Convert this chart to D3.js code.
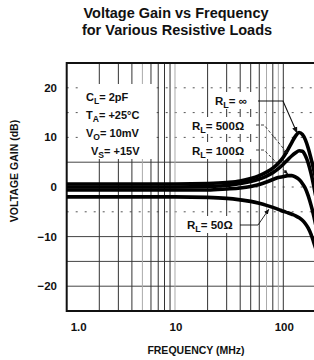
<!DOCTYPE html>
<html>
<head>
<meta charset="utf-8">
<script src="https://cdn.jsdelivr.net/npm/d3@7"></script>
<style>
  body { margin: 0; background: #fff; }
  svg { display: block; font-family: "Liberation Sans", Arial, sans-serif; }
</style>
</head>
<body>
<div id="chart"></div>
<script>
// values
var freqs   = [1, 10, 20, 30, 40, 50, 60, 70, 80, 90, 100, 110, 120, 130, 140, 150, 160, 170, 180, 190, 200];
var gainInf = [0.6, 0.6, 0.7, 0.9, 1.2, 1.7, 2.3, 3.0, 3.8, 4.8, 6.0, 7.5, 9.0, 10.3, 11.0, 10.6, 9.5, 7.8, 5.8, 3.7, 1.5];
var gain500 = [0, 0, 0.1, 0.3, 0.7, 1.1, 1.6, 2.2, 2.9, 3.7, 4.6, 5.5, 6.3, 6.9, 7.3, 7.2, 6.3, 4.8, 2.8, 0.5, -2];
var gain100 = [-0.6, -0.6, -0.6, -0.4, -0.2, 0.1, 0.5, 1.0, 1.5, 1.9, 2.1, 2.3, 2.3, 2.0, 1.5, 0.7, -0.3, -1.8, -3.6, -5.6, -7.8];
var gain50  = [-2.0, -2.0, -2.1, -2.3, -2.6, -2.9, -3.3, -3.7, -4.1, -4.5, -4.9, -5.2, -5.5, -5.8, -6.2, -6.7, -7.4, -8.3, -9.5, -11, -12.5];

var xTicks = [1, 10, 100];
var xTickLabels = ["1.0", "10", "100"];
var yTicks = [-20, -10, 0, 10, 20];
var yGrid = [-20, -15, -10, -5, 0, 5, 10, 15, 20];
var xGrid = [2, 3, 4, 5, 6, 7, 8, 9, 10, 20, 30, 40, 50, 60, 70, 80, 90, 100];

var conditions = [["C", "L", "= 2pF"], ["T", "A", "= +25°C"], ["V", "O", "= 10mV"], ["V", "S", "= +15V"]];

(function() {
  var W = 314, H = 360;
  var svg = d3.select("#chart").append("svg").attr("width", W).attr("height", H);

  var x = d3.scaleLog().domain([1, 200]).range([66.7, 315.9]);
  var y = d3.scaleLinear().domain([-25, 25]).range([311, 63]);
  var pLeft = 66.7, pTop = 63, pBottom = 311;

  // title
  var title = svg.append("text").attr("text-anchor", "middle")
    .attr("font-size", 14.5).attr("font-weight", "bold").attr("fill", "#111");
  title.append("tspan").attr("x", 176).attr("y", 18).text("Voltage Gain vs Frequency");
  title.append("tspan").attr("x", 177).attr("y", 35).text("for Various Resistive Loads");

  svg.append("clipPath").attr("id", "plotclip")
    .append("rect").attr("x", pLeft).attr("y", pTop).attr("width", W - pLeft).attr("height", pBottom - pTop);

  var grid = svg.append("g").attr("clip-path", "url(#plotclip)");

  // horizontal grid: the scan shows some solid, some dotted
  var solidH = [-20, -15, -10, 5];
  grid.selectAll("line.h").data(yGrid).enter().append("line")
    .attr("class", "h")
    .attr("x1", pLeft).attr("x2", W)
    .attr("y1", function(d) { return y(d); })
    .attr("y2", function(d) { return y(d); })
    .attr("stroke", function(d) { return solidH.indexOf(d) >= 0 ? "#444" : "#555"; })
    .attr("stroke-width", 1)
    .attr("stroke-dasharray", function(d) { return solidH.indexOf(d) >= 0 ? null : "2,7"; });

  var grayV = [5, 10, 70, 90];
  grid.selectAll("line.v").data(xGrid).enter().append("line")
    .attr("class", "v")
    .attr("x1", function(d) { return x(d); })
    .attr("x2", function(d) { return x(d); })
    .attr("y1", pTop).attr("y2", pBottom)
    .attr("stroke", function(d) { return grayV.indexOf(d) >= 0 ? "#aaa" : "#333"; })
    .attr("stroke-width", 1);

  // white knockouts behind the printed text, as in the scan
  var knock = svg.append("g").attr("fill", "#fff");
  knock.append("rect").attr("x", 80).attr("y", 84).attr("width", 72).attr("height", 75);
  knock.append("rect").attr("x", 211).attr("y", 92).attr("width", 47).attr("height", 17);
  knock.append("rect").attr("x", 188).attr("y", 117).attr("width", 66).attr("height", 17);
  knock.append("rect").attr("x", 188).attr("y", 142).attr("width", 66).attr("height", 17);
  knock.append("rect").attr("x", 183).attr("y", 216).attr("width", 56).attr("height", 17);

  // frame (left, top, bottom; right side is cut off in the scan)
  svg.append("path")
    .attr("d", "M" + W + "," + pTop + "H" + pLeft + "V" + pBottom + "H" + W)
    .attr("fill", "none").attr("stroke", "#111").attr("stroke-width", 2);

  // curves
  var line = d3.line()
    .x(function(d) { return x(d[0]); })
    .y(function(d) { return y(d[1]); })
    .curve(d3.curveMonotoneX);

  var series = [gain50, gain100, gain500, gainInf];
  var curves = svg.append("g").attr("clip-path", "url(#plotclip)");
  series.forEach(function(g) {
    curves.append("path")
      .datum(freqs.map(function(f, i) { return [f, g[i]]; }))
      .attr("d", line)
      .attr("fill", "none").attr("stroke", "#000")
      .attr("stroke-width", 3.6).attr("stroke-linejoin", "round");
  });

  // axes tick labels
  svg.selectAll("text.yt").data(yTicks).enter().append("text")
    .attr("class", "yt")
    .attr("x", 57).attr("y", function(d) { return y(d) + 4; })
    .attr("text-anchor", "end").attr("font-size", 11.5).attr("font-weight", "bold").attr("fill", "#111")
    .text(function(d) { return d < 0 ? "\u2212" + (-d) : d; });

  svg.selectAll("text.xt").data(xTicks).enter().append("text")
    .attr("class", "xt")
    .attr("x", function(d, i) { return i === 0 ? x(d) + 12 : x(d) + 1; })
    .attr("y", 331)
    .attr("text-anchor", "middle").attr("font-size", 11.5).attr("font-weight", "bold").attr("fill", "#111")
    .text(function(d, i) { return xTickLabels[i]; });

  svg.append("text")
    .attr("x", 196).attr("y", 354).attr("text-anchor", "middle")
    .attr("font-size", 10.5).attr("font-weight", "bold").attr("fill", "#111")
    .text("FREQUENCY (MHz)");

  svg.append("text")
    .attr("transform", "translate(18,171) rotate(-90)").attr("text-anchor", "middle")
    .attr("font-size", 10.5).attr("font-weight", "bold").attr("fill", "#111")
    .text("VOLTAGE GAIN (dB)");

  // condition block
  function subText(g, px, py, main, sub, rest, size) {
    var t = g.append("text").attr("x", px).attr("y", py)
      .attr("font-size", size).attr("font-weight", "bold").attr("fill", "#111");
    t.append("tspan").text(main);
    t.append("tspan").attr("dy", 3).attr("font-size", size * 0.78).text(sub);
    t.append("tspan").attr("dy", -3).text(rest);
    return t;
  }
  var condX = [86, 86, 86, 91];
  var condY = [101, 119, 137, 155];
  conditions.forEach(function(c, i) {
    subText(svg, condX[i], condY[i], c[0], c[1], c[2], 11);
  });

  // curve labels and leaders
  var defs = svg.append("defs");
  defs.append("marker").attr("id", "arr").attr("viewBox", "0 0 10 10")
    .attr("refX", 9).attr("refY", 5).attr("markerWidth", 6).attr("markerHeight", 6)
    .attr("orient", "auto")
    .append("path").attr("d", "M0,1L10,5L0,9Z").attr("fill", "#111");

  subText(svg, 215, 105, "R", "L", "= \u221E", 11.5);
  subText(svg, 192, 130, "R", "L", "= 500\u03A9", 11.5);
  subText(svg, 192, 155, "R", "L", "= 100\u03A9", 11.5);
  subText(svg, 187, 229, "R", "L", "= 50\u03A9", 11.5);

  var leaders = svg.append("g").attr("fill", "none").attr("stroke", "#111");
  leaders.append("path").attr("d", "M258,101H283L" + x(134) + "," + (y(11.3) + 2))
    .attr("stroke-width", 1.1).attr("marker-end", "url(#arr)");
  leaders.append("path").attr("d", "M256,125H264L" + x(110) + "," + (y(6.3) - 2))
    .attr("stroke-width", 0.8).attr("stroke-dasharray", "3,2").attr("marker-end", "url(#arr)");
  leaders.append("path").attr("d", "M256,150H264L" + x(110) + "," + (y(2.2) - 2))
    .attr("stroke-width", 0.8).attr("stroke-dasharray", "3,2").attr("marker-end", "url(#arr)");
  leaders.append("path").attr("d", "M240,225H258L" + (x(75) - 1) + "," + (y(-3.9) + 3))
    .attr("stroke-width", 0.9).attr("marker-end", "url(#arr)");
})();
</script>
</body>
</html>
